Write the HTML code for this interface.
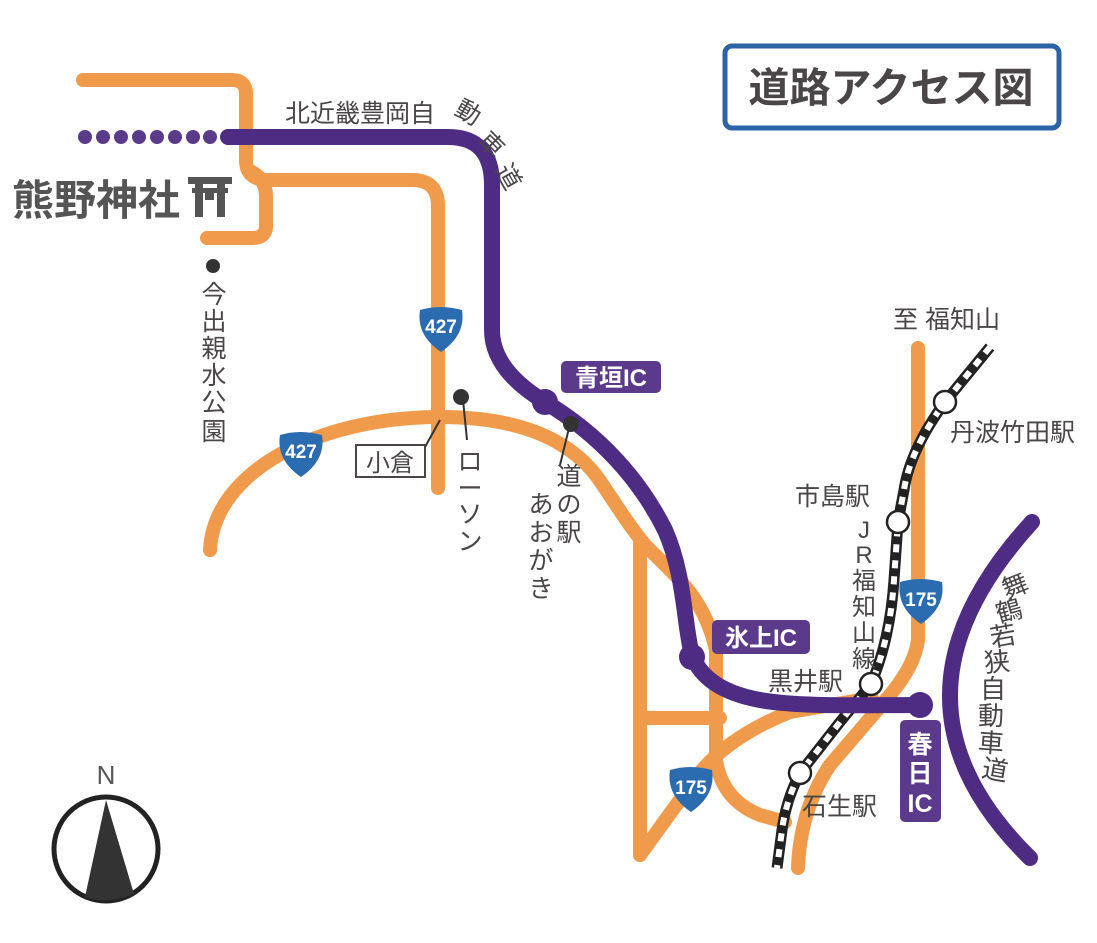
<!DOCTYPE html>
<html><head><meta charset="utf-8"><style>
html,body{margin:0;padding:0;background:#fff;}
svg{display:block;}
text{font-family:"Liberation Sans","Noto Sans CJK JP",sans-serif;fill:#4a4546;}
</style></head><body>
<svg width="1097" height="943" viewBox="0 0 1097 943" xmlns="http://www.w3.org/2000/svg">
<rect width="1097" height="943" fill="#fff"/>
<!-- orange roads -->
<g fill="none" stroke="#f09a4c" stroke-width="14" stroke-linecap="round" stroke-linejoin="round">
<path d="M83,80 H232 Q246,80 246,94 V160 Q246,180 268,180 H412 Q438,180 438,206 V488"/>
<path d="M252,172 Q266,180 266,196 V226 Q266,238 252,238 H207"/>
<path d="M210,550 C214,470 320,417 440,417 C520,417 570,440 598,478 C620,510 625,520 645,545 C680,580 705,600 716,650 V760 Q722,800 760,815 L785,822"/>
<path d="M640,540 V855"/>
<path d="M640,718 H720"/>
<path d="M640,855 L690,786 Q720,740 790,712 L872,698"/>
<path d="M918,348 V640 Q915,665 890,695 L830,765 Q800,810 798,868"/>
</g>
<!-- railway -->
<path d="M990,347 L945,402 Q910,450 904,490 L898,522 L894,580 Q890,640 871,684 L840,722 L800,773 Q786,800 782,830 L777,868" fill="none" stroke="#222" stroke-width="11"/>
<path d="M990,347 L945,402 Q910,450 904,490 L898,522 L894,580 Q890,640 871,684 L840,722 L800,773 Q786,800 782,830 L777,868" fill="none" stroke="#fff" stroke-width="6" stroke-dasharray="8 8"/>
<!-- purple expressways -->
<g fill="#5a3b8a">
<circle cx="85" cy="137" r="7"/><circle cx="103" cy="137" r="7"/><circle cx="121" cy="137" r="7"/><circle cx="139" cy="137" r="7"/><circle cx="157" cy="137" r="7"/><circle cx="175" cy="137" r="7"/><circle cx="193" cy="137" r="7"/><circle cx="210" cy="137" r="7"/>
</g>
<g fill="none" stroke="#4e2c84" stroke-width="16" stroke-linecap="round">
<path d="M228,137 H448 Q492,137 492,185 V330 Q492,370 545,402 C600,435 640,480 665,530 C685,575 684,625 692,655 Q705,690 760,700 C800,707 860,705 922,705"/>
<path d="M1032,522 Q869,700 1030,858"/>
</g>
<g fill="#4e2c84">
<circle cx="545" cy="402" r="13"/><circle cx="692" cy="657" r="13"/><circle cx="920" cy="705" r="13"/>
</g>
<!-- stations -->
<g fill="#fff" stroke="#222" stroke-width="2.5">
<circle cx="945" cy="402" r="11"/><circle cx="898" cy="522" r="11"/><circle cx="871" cy="684" r="11"/><circle cx="800" cy="773" r="11"/>
</g>
<!-- IC labels -->
<rect x="561" y="361" width="100" height="32" rx="5" fill="#5b3a8c"/>
<text x="611" y="386" font-size="24" font-weight="bold" text-anchor="middle" style="fill:#fff">青垣IC</text>
<rect x="712" y="620" width="98" height="34" rx="5" fill="#5b3a8c"/>
<text x="761" y="646" font-size="24" font-weight="bold" text-anchor="middle" style="fill:#fff">氷上IC</text>
<rect x="900" y="720" width="41" height="102" rx="5" fill="#5b3a8c"/>
<text x="920" y="753" font-size="25" font-weight="bold" text-anchor="middle" style="fill:#fff">春</text>
<text x="920" y="782" font-size="25" font-weight="bold" text-anchor="middle" style="fill:#fff">日</text>
<text x="920" y="812" font-size="25" font-weight="bold" text-anchor="middle" style="fill:#fff">IC</text>
<!-- shields -->
<g>
<path d="M420,310 Q440,304 462,310 Q466,335 441,352 Q416,335 420,310Z" fill="#2b6cb0"/>
<text x="441" y="333" font-size="19" font-weight="bold" text-anchor="middle" style="fill:#fff">427</text>
<path d="M280,435 Q300,429 322,435 Q326,460 301,477 Q276,460 280,435Z" fill="#2b6cb0"/>
<text x="301" y="458" font-size="19" font-weight="bold" text-anchor="middle" style="fill:#fff">427</text>
<path d="M900,582 Q920,576 942,582 Q946,607 921,624 Q896,607 900,582Z" fill="#2b6cb0"/>
<text x="921" y="606" font-size="19" font-weight="bold" text-anchor="middle" style="fill:#fff">175</text>
<path d="M670,770 Q690,764 712,770 Q716,795 691,812 Q666,795 670,770Z" fill="#2b6cb0"/>
<text x="691" y="794" font-size="19" font-weight="bold" text-anchor="middle" style="fill:#fff">175</text>
</g>
<!-- title -->
<rect x="725" y="46" width="334" height="82" rx="7" fill="#fff" stroke="#2c63a8" stroke-width="5"/>
<text x="891" y="102" font-size="41" font-weight="bold" text-anchor="middle">道路アクセス図</text>
<!-- shrine -->
<text x="12" y="215" font-size="42" font-weight="bold" style="fill:#555">熊野神社</text>
<g fill="#555">
<rect x="188" y="177" width="44" height="7"/>
<rect x="192" y="188" width="36" height="5"/>
<rect x="195" y="184" width="8" height="33"/>
<rect x="217" y="184" width="8" height="33"/>
<rect x="205" y="188" width="9" height="12"/>
</g>
<!-- pois -->
<g fill="#333"><circle cx="213" cy="266" r="7"/><circle cx="461" cy="397" r="8"/><circle cx="571" cy="424" r="8"/></g>
<g stroke="#333" stroke-width="2" fill="none">
<line x1="463" y1="400" x2="467" y2="440"/>
<line x1="569" y1="428" x2="560" y2="465"/>
<line x1="440" y1="420" x2="425" y2="447"/>
</g>
<g font-size="25" text-anchor="middle">
<text x="214" y="303">今</text><text x="214" y="330">出</text><text x="214" y="357">親</text><text x="214" y="384">水</text><text x="214" y="411">公</text><text x="214" y="440">園</text>
<text x="470" y="470">ロ</text><text x="470" y="497">ー</text><text x="470" y="523">ソ</text><text x="470" y="550">ン</text>
<text x="569" y="485">道</text><text x="569" y="513">の</text><text x="569" y="541">駅</text>
<text x="541" y="513">あ</text><text x="541" y="541">お</text><text x="541" y="569">が</text><text x="541" y="597">き</text>
</g>
<rect x="356" y="445" width="69" height="32" fill="#fff" stroke="#4a4546" stroke-width="2"/>
<text x="390" y="471" font-size="24" text-anchor="middle">小倉</text>
<!-- highway labels -->
<text x="285" y="122" font-size="25">北近畿豊岡自</text>
<g font-size="25" text-anchor="middle" dominant-baseline="central">
<text transform="translate(468,113) rotate(30)">動</text>
<text transform="translate(491,145) rotate(45)">車</text>
<text transform="translate(508,177) rotate(60)">道</text>
</g>
<g font-size="25">
<text x="893" y="328">至 福知山</text>
<text x="950" y="441">丹波竹田駅</text>
<text x="795" y="505">市島駅</text>
<text x="768" y="690">黒井駅</text>
<text x="802" y="815">石生駅</text>
</g>
<g font-size="24" text-anchor="middle">
<text x="864" y="538">J</text><text x="864" y="563">R</text><text x="864" y="589">福</text><text x="864" y="615">知</text><text x="864" y="641">山</text><text x="864" y="667">線</text>
</g>
<g font-size="26" text-anchor="middle" dominant-baseline="central">
<text transform="translate(1015,586) rotate(-22)">舞</text>
<text transform="translate(1009,611) rotate(-16)">鶴</text>
<text transform="translate(1003,636) rotate(-10)">若</text>
<text transform="translate(997,662) rotate(-5)">狭</text>
<text transform="translate(993,689)">自</text>
<text transform="translate(991,716)">動</text>
<text transform="translate(991,743) rotate(4)">車</text>
<text transform="translate(995,770) rotate(10)">道</text>
</g>
<!-- north -->
<text x="106" y="784" font-size="26" text-anchor="middle" style="fill:#555">N</text>
<circle cx="106" cy="849" r="52" fill="none" stroke="#222" stroke-width="5"/>
<path d="M106,800 L85,897 Q106,905 134,894 Z" fill="#333"/>
</svg>
</body></html>
